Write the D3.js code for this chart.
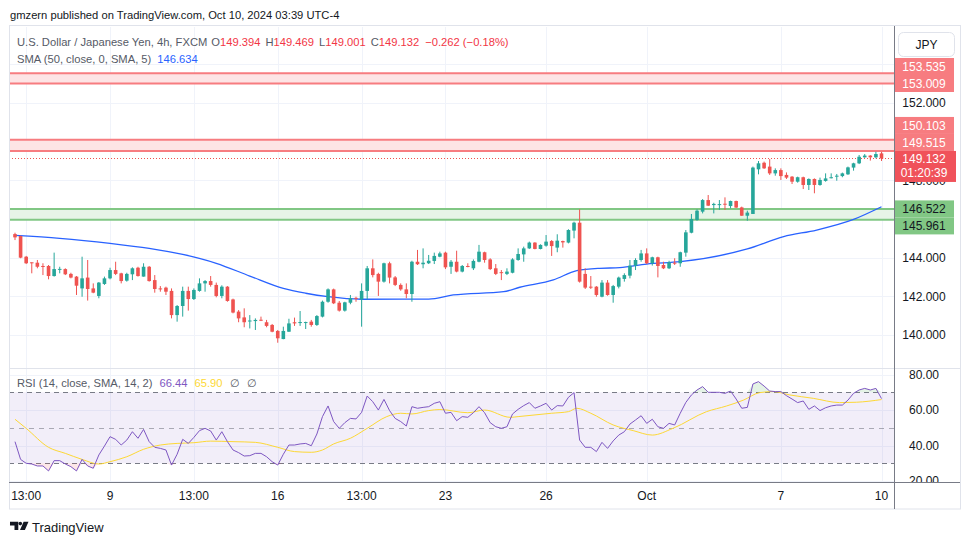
<!DOCTYPE html>
<html><head><meta charset="utf-8">
<script src="https://cdn.jsdelivr.net/npm/d3@7"></script>
<style>
body{margin:0;background:#fff;}
svg{display:block;font-family:"Liberation Sans",Arial,sans-serif;}
</style>
</head><body>
<svg id="c" width="970" height="545"></svg>
<script>
// ---------- DATA (USD/JPY 4h, FXCM) ----------
const opens=[145.22,145.12,144.05,143.76,143.74,143.57,143.57,143.05,143.40,143.41,
143.16,143.02,142.41,142.97,142.41,142.02,142.64,142.93,143.36,143.19,
142.81,143.14,143.48,143.02,143.53,142.84,142.41,142.45,142.28,141.03,
141.50,142.28,141.86,142.28,142.67,142.79,142.59,142.02,142.50,141.84,
141.21,140.91,140.72,140.72,140.79,140.66,140.52,140.21,139.79,140.17,
140.66,140.64,140.65,140.69,140.52,140.95,141.72,142.36,141.67,141.26,
141.67,141.92,141.84,142.28,143.45,143.16,142.76,143.71,142.98,142.59,
142.36,142.12,143.79,143.66,143.71,143.83,144.05,144.26,143.53,143.79,
143.28,143.57,143.45,143.79,144.28,143.91,143.45,143.25,143.16,143.22,
143.88,144.17,144.48,144.78,144.45,144.62,144.86,144.52,144.86,144.78,
145.40,145.81,143.16,142.50,142.50,141.98,142.71,142.07,142.50,142.90,
143.07,143.59,143.88,144.22,143.71,144.02,143.62,143.45,143.74,143.71,
144.26,145.29,145.95,146.38,146.98,146.72,146.74,146.79,146.67,146.93,
146.60,146.17,146.26,148.57,148.91,148.71,148.36,148.53,148.28,148.19,
147.93,148.16,147.76,148.07,147.76,147.97,148.14,148.22,148.22,148.31,
148.66,148.88,149.19,149.28,149.19,149.394];
const highs=[145.29,145.14,144.09,143.76,143.88,143.71,143.62,144.26,143.53,143.45,
143.22,143.05,144.05,143.88,142.67,142.74,143.02,143.48,143.79,143.22,
143.22,143.50,143.53,143.71,143.57,143.10,142.53,142.50,142.41,141.55,
142.50,142.50,142.41,142.93,142.84,143.05,142.71,142.57,142.53,141.88,
141.29,141.38,141.03,140.86,140.95,140.78,140.57,140.26,140.43,140.84,
140.90,141.24,140.69,140.78,141.03,141.78,142.41,142.40,141.76,141.72,
142.07,141.98,142.67,143.57,143.91,143.22,143.74,143.79,143.05,142.67,
142.67,143.84,144.40,144.48,144.14,144.26,144.31,144.31,143.88,144.36,
143.62,143.71,143.91,144.66,144.31,143.97,143.67,143.36,143.45,143.97,
144.48,144.57,144.83,144.80,144.69,145.17,144.91,145.21,144.88,145.47,
145.86,146.50,143.45,143.05,142.53,142.84,142.84,142.59,143.02,143.19,
143.88,143.97,144.40,144.48,144.05,144.05,143.79,143.84,143.97,144.31,
145.43,146.26,146.50,147.03,147.24,146.84,146.98,147.12,146.95,146.95,
146.64,146.43,148.71,149.00,148.97,149.10,148.62,148.62,148.41,148.22,
148.19,148.19,148.10,148.10,148.14,148.36,148.36,148.33,148.40,148.71,
148.91,149.31,149.36,149.30,149.48,149.469];
const lows=[144.91,143.97,143.67,143.19,143.45,143.10,142.88,143.02,143.19,143.10,
142.93,142.07,141.98,141.78,142.16,141.90,142.59,142.88,143.10,142.67,
142.76,142.84,143.02,143.02,142.76,142.19,142.24,142.07,140.86,140.69,
140.95,141.26,141.81,142.24,142.24,142.50,141.95,141.90,141.72,141.12,
140.66,140.40,140.34,140.26,140.72,140.40,140.14,139.60,139.78,140.16,
140.47,140.47,140.31,140.43,140.47,140.91,141.67,141.60,141.21,141.21,
141.59,141.72,140.43,141.84,142.98,142.02,142.71,142.67,142.53,142.29,
141.90,141.72,143.62,143.45,143.67,143.67,144.02,143.41,143.16,143.24,
143.24,143.50,143.36,143.76,143.74,143.36,143.10,142.84,143.10,143.19,
143.84,143.79,144.45,144.43,144.43,144.57,144.09,144.28,144.52,144.74,
145.00,142.71,142.38,142.38,141.98,141.95,142.03,141.67,142.41,142.76,
142.93,143.36,143.79,143.67,143.59,142.98,143.41,143.41,143.62,143.53,
144.05,145.26,145.91,146.29,146.67,146.29,146.47,146.47,146.55,146.57,
146.16,145.91,146.26,148.31,148.59,148.28,148.24,148.02,148.07,147.81,
147.88,147.55,147.50,147.33,147.72,147.93,148.10,147.98,148.16,148.28,
148.50,148.84,149.17,149.02,149.14,149.001];
const closes=[145.05,144.00,143.71,143.74,143.53,143.53,143.05,143.41,143.42,143.14,
142.97,142.55,142.93,142.38,142.19,142.71,142.93,143.36,143.16,142.79,
143.16,143.45,143.05,143.53,142.79,142.38,142.38,142.24,141.03,141.50,
142.28,141.86,142.33,142.67,142.79,142.59,142.02,142.50,141.76,141.16,
140.86,140.66,140.75,140.78,140.77,140.47,140.17,139.83,140.21,140.60,
140.60,140.67,140.67,140.52,140.98,141.72,142.36,141.64,141.26,141.69,
141.90,141.90,142.28,143.45,143.10,142.76,143.71,142.97,142.59,142.36,
142.12,143.79,143.66,143.74,143.84,144.09,144.22,143.50,143.79,143.28,
143.57,143.53,143.83,144.31,143.88,143.41,143.16,143.22,143.28,143.91,
144.19,144.48,144.78,144.45,144.66,144.83,144.60,144.88,144.79,145.43,
145.81,142.76,142.45,142.45,142.07,142.71,142.07,142.53,142.97,143.10,
143.59,143.88,144.22,143.71,144.02,143.57,143.45,143.76,143.71,144.28,
145.31,146.00,146.43,146.98,146.69,146.78,146.77,146.76,146.93,146.59,
146.17,146.33,148.66,148.88,148.62,148.36,148.53,148.22,148.14,147.93,
148.16,147.76,148.07,147.76,148.02,148.10,148.16,148.24,148.36,148.67,
148.88,149.22,149.28,149.19,149.36,149.132];
// SMA(50, close, 0, SMA, 5): [candle index, value]
const smaPoints=[[1,145.15],[9,145.00],[18,144.74],[25,144.48],[31,144.17],[37,143.71],[43,143.05],
[49,142.41],[53,142.16],[57,141.98],[63,141.85],[75,141.86],[79.4,142.07],[88.4,142.24],[91.3,142.47],
[97.3,142.85],[101.5,143.33],[105.6,143.45],[109.2,143.48],[114,143.67],[120,143.79],[132,144.45],
[138.5,145.09],[144.4,145.43],[151,145.98],[156,146.634]];
// RSI(14) per candle
const rsi=[42.2,32.2,30.0,29.6,28.5,28.5,25.7,31.5,31.5,29.6,
28.1,25.7,32.2,28.5,27.2,34.7,39.7,45.0,43.5,40.3,
43.1,47.8,44.1,49.1,42.2,39.0,38.4,37.5,29.0,35.1,
43.5,41.2,44.6,48.4,49.7,48.2,43.1,47.8,42.2,37.5,
36.0,34.1,34.3,35.6,35.6,33.7,30.9,29.0,35.1,40.3,
40.3,40.9,41.2,39.9,46.5,56.3,62.3,53.5,49.7,52.9,
55.3,55.0,58.7,67.9,64.7,60.0,66.0,59.7,55.3,53.5,
51.0,61.9,61.0,61.5,61.9,63.8,64.7,58.2,58.7,54.0,
56.3,55.9,58.5,61.9,58.5,52.9,50.6,49.7,50.6,57.8,
60.4,62.5,64.2,61.0,62.3,63.8,60.0,62.5,62.3,67.2,
69.8,43.1,39.0,39.0,36.6,41.8,38.4,42.6,45.9,47.8,
52.1,54.4,56.8,52.5,54.8,50.6,49.7,52.5,51.6,58.2,
64.3,68.5,71.3,73.2,70.0,70.0,70.0,69.4,70.7,66.2,
61.0,61.5,74.7,76.0,73.5,70.7,70.4,70.4,68.1,66.2,
64.2,65.1,60.4,62.3,59.7,61.3,62.3,62.8,62.8,65.6,
69.4,71.3,72.2,71.3,72.2,66.44];
// RSI-based SMA(14): [candle index, value]
const rsiSmaPoints=[[1,54.8],[3,49.7],[7,39.0],[10,35.6],[13,32.2],[16,29.6],[18,30.9],[21,33.7],[24,37.9],
[27,40.3],[30,41.2],[33,41.6],[36,42.5],[40,42.2],[44,41.8],[48,39.0],[51,36.6],[54,36.2],[56,37.5],[58,40.9],
[61,44.1],[64,49.7],[67.5,56.3],[70,58.2],[72,57.8],[75,59.7],[77,60.3],[82,58.5],[85,60.0],[89.6,55.9],
[91,56.3],[97,58.2],[100,59.1],[101.5,61.0],[104,58.2],[108,51.6],[111.6,48.4],[115,45.9],[118.7,49.7],
[124.7,59.1],[128.3,62.3],[131.3,65.6],[134.2,69.8],[136.6,70.4],[139.6,68.5],[143.8,66.6],[148.5,64.2],
[151.5,64.4],[156,65.9]];
// Horizontal zones
const zoneLow=[153.009,149.515,145.961];
const zoneHigh=[153.535,150.103,146.522];
const zoneKind=["res","res","sup"];
// Axis ticks
const priceTicks=[138,140,142,144,146,148,150,152,154,156];
const rsiTicks=[80,60,40,20];
const rsiLevels=[70,50,30];
const timeTickIdx=[3,18,33,48,63,78,96,114,138,156];
const timeTickLab=["13:00","9","13:00","16","13:00","23","26","Oct","7","10"];
const lastClose=149.132, countdown="01:20:39";

// ---------- LAYOUT ----------
const L=9,R=894,T=27,MB=368,RB=482,FB=509,FR=960;
const UP="#26a69a",DN="#ef5350";
const svg=d3.select("#c");
const x=d3.scaleLinear().domain([1,156]).range([15,881.5]);
const y=d3.scaleLinear().domain([140,152]).range([335,103]);
const yr=d3.scaleLinear().domain([20,80]).range([481.05,374.55]);
const fmt3=d3.format(".3f"),fmt2=d3.format(".2f");

const defs=svg.append("defs");
defs.append("clipPath").attr("id","mainClip").append("rect").attr("x",L).attr("y",T).attr("width",R-L).attr("height",MB-T);
defs.append("clipPath").attr("id","rsiClip").append("rect").attr("x",L).attr("y",MB+1).attr("width",R-L).attr("height",RB-MB-1);
defs.append("clipPath").attr("id","rsiAxisClip").append("rect").attr("x",R).attr("y",MB+1).attr("width",FR-R).attr("height",RB-MB-1);

// header
svg.append("text").attr("x",10).attr("y",18.5).attr("font-size",11.2).attr("fill","#131722")
  .text("gmzern published on TradingView.com, Oct 10, 2024 03:39 UTC-4");

// grid
const grid=svg.append("g").attr("stroke","#f0f3fa").attr("stroke-width",1);
grid.selectAll("line.v").data(timeTickIdx).join("line")
  .attr("x1",d=>Math.round(x(d))+0.5).attr("x2",d=>Math.round(x(d))+0.5).attr("y1",T).attr("y2",RB);
grid.selectAll("line.h").data(priceTicks).join("line")
  .attr("x1",L).attr("x2",R).attr("y1",d=>Math.round(y(d))+0.5).attr("y2",d=>Math.round(y(d))+0.5)
  .attr("clip-path","url(#mainClip)");
grid.selectAll("line.r").data(rsiTicks).join("line")
  .attr("x1",L).attr("x2",R).attr("y1",d=>Math.round(yr(d))+0.5).attr("y2",d=>Math.round(yr(d))+0.5);

// zones
const main=svg.append("g").attr("clip-path","url(#mainClip)");
zoneLow.forEach((lo,k)=>{
  const hi=zoneHigh[k], res=zoneKind[k]==="res";
  main.append("rect").attr("x",L).attr("width",R-L).attr("y",y(hi)).attr("height",y(lo)-y(hi))
    .attr("fill",res?"#fde4e5":"#e6f4e7");
  [hi,lo].forEach(v=>main.append("line").attr("x1",L).attr("x2",R).attr("y1",y(v)).attr("y2",y(v))
    .attr("stroke",res?"#f77c80":"#81c784").attr("stroke-width",2));
});
// last price dotted
main.append("line").attr("x1",L).attr("x2",R).attr("y1",Math.round(y(lastClose))+0.5).attr("y2",Math.round(y(lastClose))+0.5)
  .attr("stroke",DN).attr("stroke-dasharray","1,2");

// SMA
main.append("path").datum(smaPoints).attr("fill","none").attr("stroke","#2962ff").attr("stroke-width",1.3)
  .attr("d",d3.line().x(d=>x(d[0])).y(d=>y(d[1])).curve(d3.curveMonotoneX));

// candles
const idx=d3.range(opens.length);
const cg=main.append("g");
cg.selectAll("line").data(idx).join("line")
  .attr("x1",i=>x(i+1)).attr("x2",i=>x(i+1)).attr("y1",i=>y(highs[i])).attr("y2",i=>y(lows[i]))
  .attr("stroke",i=>closes[i]>=opens[i]?UP:DN).attr("stroke-width",1);
cg.selectAll("rect").data(idx).join("rect")
  .attr("x",i=>x(i+1)-1.8).attr("width",3.6)
  .attr("y",i=>y(Math.max(opens[i],closes[i])))
  .attr("height",i=>Math.max(1,Math.abs(y(opens[i])-y(closes[i]))))
  .attr("fill",i=>closes[i]>=opens[i]?UP:DN);

// legend
const lg=svg.append("text").attr("x",17).attr("y",46.3).attr("font-size",11.2).attr("fill","#555a66");
lg.append("tspan").text("U.S. Dollar / Japanese Yen, 4h, FXCM");
[["O",opens[155]],["H",highs[155]],["L",lows[155]],["C",closes[155]]].forEach((p,k)=>{
  lg.append("tspan").attr("dx",k?5:4).text(p[0]);
  lg.append("tspan").attr("fill","#f23645").text(fmt3(p[1]));
});
lg.append("tspan").attr("dx",6).attr("fill","#f23645").text("\u22120.262 (\u22120.18%)");
const lg2=svg.append("text").attr("x",17).attr("y",63.3).attr("font-size",11.2).attr("fill","#555a66");
lg2.append("tspan").text("SMA (50, close, 0, SMA, 5)");
lg2.append("tspan").attr("dx",6).attr("fill","#2962ff").text(fmt3(smaPoints[smaPoints.length-1][1]));

// pane separator
svg.append("line").attr("x1",L).attr("x2",FR).attr("y1",MB+0.5).attr("y2",MB+0.5).attr("stroke","#e0e3eb");

// RSI pane
const rp=svg.append("g").attr("clip-path","url(#rsiClip)");
rp.append("rect").attr("x",L).attr("width",R-L).attr("y",yr(70)).attr("height",yr(30)-yr(70)).attr("fill","rgba(126,87,194,0.1)");
rp.selectAll("line.lv").data(rsiLevels).join("line")
  .attr("x1",L).attr("x2",R).attr("y1",d=>Math.round(yr(d))+0.5).attr("y2",d=>Math.round(yr(d))+0.5)
  .attr("stroke","#787b86").attr("stroke-dasharray",d=>d===50?"5,5":"5,4").attr("stroke-opacity",d=>d===50?0.6:1);
rp.append("path").datum(idx).attr("fill","rgba(76,175,80,0.15)")
  .attr("d",d3.area().x(i=>x(i+1)).y0(yr(70)).y1(i=>yr(Math.max(70,rsi[i]))));
rp.append("path").datum(idx).attr("fill","rgba(242,54,69,0.12)")
  .attr("d",d3.area().x(i=>x(i+1)).y0(yr(30)).y1(i=>yr(Math.min(30,rsi[i]))));
rp.append("path").datum(rsiSmaPoints).attr("fill","none").attr("stroke","#fdd835").attr("stroke-width",1)
  .attr("d",d3.line().x(d=>x(d[0])).y(d=>yr(d[1])).curve(d3.curveMonotoneX));
rp.append("path").datum(idx).attr("fill","none").attr("stroke","#7e57c2").attr("stroke-width",1)
  .attr("d",d3.line().x(i=>x(i+1)).y(i=>yr(rsi[i])));
const rl=svg.append("text").attr("x",17).attr("y",387).attr("font-size",11.2).attr("fill","#555a66");
rl.append("tspan").text("RSI (14, close, SMA, 14, 2)");
rl.append("tspan").attr("dx",7).attr("fill","#7e57c2").text(fmt2(rsi[rsi.length-1]));
rl.append("tspan").attr("dx",7).attr("fill","#fdd835").text(fmt2(rsiSmaPoints[rsiSmaPoints.length-1][1]));
rl.append("tspan").attr("dx",7).text("\u2205");
rl.append("tspan").attr("dx",7).text("\u2205");

// axes lines & frame
svg.append("rect").attr("x",L+0.5).attr("y",T-1.5).attr("width",FR-L).attr("height",FB-T+1.5)
  .attr("fill","none").attr("stroke","#e0e3eb");
svg.append("line").attr("x1",R+0.5).attr("x2",R+0.5).attr("y1",T-1).attr("y2",FB).attr("stroke","#787b86");
svg.append("line").attr("x1",L).attr("x2",FR).attr("y1",RB+0.5).attr("y2",RB+0.5).attr("stroke","#787b86");

// time labels
svg.append("g").selectAll("text").data(timeTickIdx).join("text")
  .attr("x",d=>x(d)).attr("y",500).attr("text-anchor","middle").attr("font-size",12).attr("fill","#131722")
  .text((d,k)=>timeTickLab[k]);

// level labels layout
const curTop=y(lastClose)-7.5, curH=31, BH=17;
const levels=[];
zoneLow.forEach((lo,k)=>{levels.push({v:zoneHigh[k],k:zoneKind[k]});levels.push({v:lo,k:zoneKind[k]});});
const above=levels.filter(l=>l.v>lastClose).sort((a,b)=>a.v-b.v);
let prevTop=curTop;
above.forEach(l=>{const c=y(l.v);const b=Math.min(c+BH/2,prevTop);l.top=b-BH;prevTop=l.top;});
const below=levels.filter(l=>l.v<lastClose).sort((a,b)=>b.v-a.v);
let prevBot=curTop+curH;
below.forEach(l=>{const c=y(l.v);const t=Math.max(c-BH/2,prevBot);l.top=t;prevBot=t+BH;});
// merge label boxes into covered intervals
const raw=levels.map(l=>[l.top,l.top+BH]).concat([[curTop,curTop+curH]]).sort((a,b)=>a[0]-b[0]);
const covered=[];
raw.forEach(b=>{const last=covered[covered.length-1];
  if(last&&b[0]<=last[1]+0.5) last[1]=Math.max(last[1],b[1]); else covered.push([b[0],b[1]]);});
// price axis labels (skip those the level boxes hide completely)
const shownTicks=priceTicks.filter(p=>y(p)>T+8&&y(p)<MB-6&&
  !covered.some(b=>y(p)-4>=b[0]&&y(p)+4<=b[1]));
svg.append("g").selectAll("text").data(shownTicks).join("text")
  .attr("x",924).attr("y",d=>y(d)+4.3).attr("text-anchor","middle").attr("font-size",12).attr("fill","#131722")
  .text(d=>fmt3(d));
svg.append("g").attr("clip-path","url(#rsiAxisClip)").selectAll("text").data(rsiTicks).join("text")
  .attr("x",924).attr("y",d=>yr(d)+4.3).attr("text-anchor","middle").attr("font-size",12).attr("fill","#131722")
  .text(d=>fmt2(d));

const lab=svg.append("g");
levels.forEach(l=>{
  lab.append("rect").attr("x",R+1).attr("y",l.top).attr("width",59).attr("height",BH)
    .attr("fill",l.k==="res"?"#f77c80":"#81c784");
  lab.append("text").attr("x",924).attr("y",l.top+BH/2+4.3).attr("text-anchor","middle").attr("font-size",12)
    .attr("fill",l.k==="res"?"#ffffff":"#131722").text(fmt3(l.v));
});
lab.append("rect").attr("x",R+1).attr("y",curTop).attr("width",61).attr("height",curH).attr("fill","#f0525a");
lab.append("text").attr("x",924).attr("y",curTop+12.5).attr("text-anchor","middle").attr("font-size",12).attr("fill","#fff").text(fmt3(lastClose));
lab.append("text").attr("x",924).attr("y",curTop+26).attr("text-anchor","middle").attr("font-size",12).attr("fill","#fff").text(countdown);

// JPY box
svg.append("rect").attr("x",898.5).attr("y",32.5).attr("width",56).attr("height",24).attr("rx",5)
  .attr("fill","#fff").attr("stroke","#e0e3eb");
svg.append("text").attr("x",926.5).attr("y",48.8).attr("text-anchor","middle").attr("font-size",12).attr("fill","#131722").text("JPY");

// footer logo
const fl=svg.append("g").attr("fill","#131722");
fl.append("path").attr("d","M10,521.8h8.3v8.2h-3.8v-4.6h-4.5z");
fl.append("circle").attr("cx",20.3).attr("cy",523.6).attr("r",1.8);
fl.append("path").attr("d","M23.6,521.8h4.9l-3.6,8.2h-4.9z");
svg.append("text").attr("x",32).attr("y",531.5).attr("font-size",13).attr("fill","#131722").text("TradingView");
</script>
</body></html>
